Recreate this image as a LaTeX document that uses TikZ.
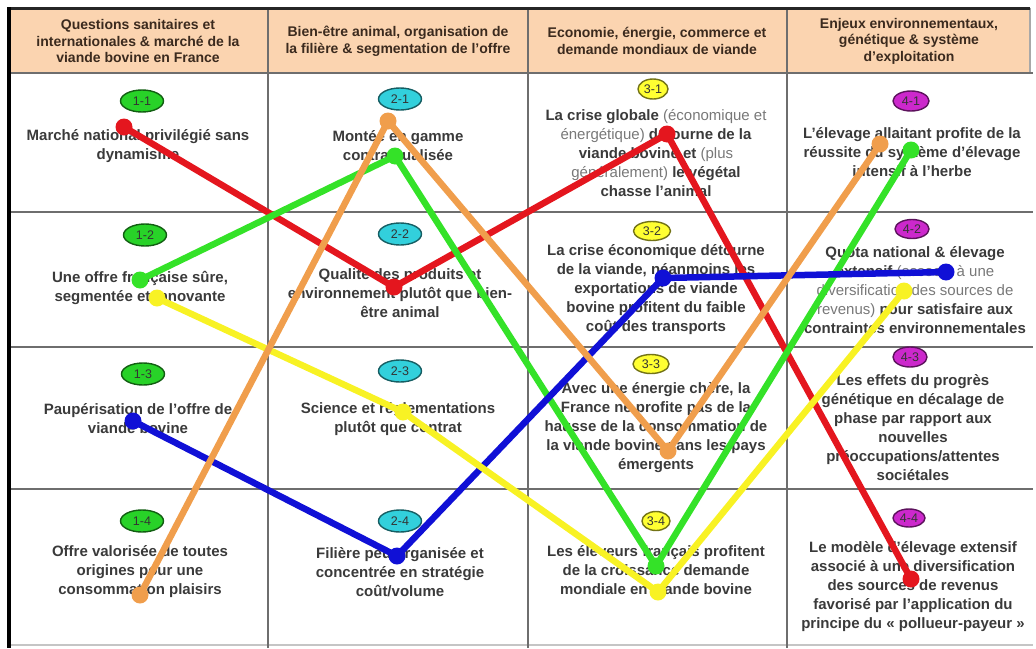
\documentclass[tikz,border=0pt]{standalone}
\usepackage{fontspec}
\setmainfont{Liberation Sans}
\usetikzlibrary{shapes.geometric}

\definecolor{headfill}{RGB}{251,212,176}
\definecolor{headtext}{RGB}{59,42,30}
\definecolor{bodytext}{RGB}{58,58,58}
\definecolor{softtext}{RGB}{120,120,120}
\definecolor{gridgray}{RGB}{110,110,110}
\definecolor{lnred}{RGB}{228,22,30}
\definecolor{lnorange}{RGB}{240,158,76}
\definecolor{lngreen}{RGB}{52,226,40}
\definecolor{lnyellow}{RGB}{248,242,36}
\definecolor{lnblue}{RGB}{16,16,214}
\definecolor{bdgreen}{RGB}{40,210,40}
\definecolor{bdcyan}{RGB}{50,208,220}
\definecolor{bdyellow}{RGB}{255,255,50}
\definecolor{bdmagenta}{RGB}{204,40,204}

\newcommand{\soft}[1]{{\mdseries\color{softtext}#1}}

\begin{document}
\begin{tikzpicture}[x=1pt,y=-1pt,
    head/.style={align=center,inner sep=0pt,text=headtext,
      font=\fontsize{14}{16.6}\selectfont\bfseries},
    cell/.style={align=center,inner sep=0pt,text=bodytext,
      font=\fontsize{15}{19}\selectfont\bfseries},
    badge/.style={shape=ellipse,fill=#1,draw=#1!45!black,line width=1.4pt,
      inner sep=0pt,minimum width=43,minimum height=22,text=black!80,
      font=\fontsize{12.5}{12.5}\selectfont},
    link/.style={draw=#1,line width=6.5pt,line join=round},
    dot/.style={shape=circle,fill=#1,inner sep=0pt,minimum size=17}]
    \useasboundingbox (0,0) rectangle (1036,648);

    % table frame
    \fill[headfill] (8,8) rectangle (1030,73);
    \draw[gridgray!60,line width=1.5pt] (1030,8) -- (1030,73);
    \draw[gridgray,line width=1.6pt] (8,73) -- (1033,73);
    \draw[gridgray,line width=1.6pt] (8,212) -- (1033,212);
    \draw[gridgray,line width=1.6pt] (8,347) -- (1033,347);
    \draw[gridgray,line width=1.6pt] (8,489) -- (1033,489);
    \draw[gridgray!40,line width=1.2pt] (8,645) -- (1033,645);
    \draw[gridgray,line width=1.6pt] (268,8) -- (268,648);
    \draw[gridgray,line width=1.6pt] (528,8) -- (528,648);
    \draw[gridgray,line width=1.6pt] (787,8) -- (787,648);
    \draw[black!85,line width=3pt] (7,8) -- (1030,8);
    \draw[black,line width=3.2pt] (9,7) -- (9,648);

    % headers
    \node[head] (head1) at (138,41) {Questions sanitaires et\\internationales \& marché de la\\viande bovine en France};
    \node[head] (head2) at (398,41) {Bien-être animal, organisation de\\la filière \& segmentation de l’offre};
    \node[head] (head3) at (657,41) {Economie, énergie, commerce et\\demande mondiaux de viande};
    \node[head] (head4) at (909,41) {Enjeux environnementaux,\\génétique \& système\\d’exploitation};

    % badges
    \node[badge=bdgreen] (lab11) at (142,101) {1-1};
    \node[badge=bdgreen] (lab12) at (145,235) {1-2};
    \node[badge=bdgreen] (lab13) at (143,374) {1-3};
    \node[badge=bdgreen] (lab14) at (142,521) {1-4};
    \node[badge=bdcyan] (lab21) at (400,99) {2-1};
    \node[badge=bdcyan] (lab22) at (400,234) {2-2};
    \node[badge=bdcyan] (lab23) at (400,371) {2-3};
    \node[badge=bdcyan] (lab24) at (400,521) {2-4};
    \node[badge=bdyellow,minimum width=30,minimum height=20] (lab31) at (653,89) {3-1};
    \node[badge=bdyellow,minimum width=37,minimum height=19] (lab32) at (652,231) {3-2};
    \node[badge=bdyellow,minimum width=36,minimum height=19] (lab33) at (651,364) {3-3};
    \node[badge=bdyellow,minimum width=28,minimum height=19] (lab34) at (656,521) {3-4};
    \node[badge=bdmagenta,minimum width=36,minimum height=20] (lab41) at (911,101) {4-1};
    \node[badge=bdmagenta,minimum width=34,minimum height=19] (lab42) at (912,229) {4-2};
    \node[badge=bdmagenta,minimum width=34,minimum height=20] (lab43) at (910,357) {4-3};
    \node[badge=bdmagenta,minimum width=32,minimum height=18] (lab44) at (909,518) {4-4};

    % cell texts
    \node[cell] (cell11) at (138,146) {Marché national privilégié sans\\dynamisme};
    \node[cell] (cell21) at (398,146) {Montée en gamme\\contractualisée};
    \node[cell] (cell31) at (656,153) {La crise globale \soft{(économique et}\\\soft{énergétique)} détourne de la\\viande bovine et \soft{(plus}\\\soft{généralement)} le végétal\\chasse l’animal};
    \node[cell] (cell41) at (912,152) {L’élevage allaitant profite de la\\réussite du système d’élevage\\intensif à l’herbe};
    \node[cell] (cell12) at (140,288) {Une offre française sûre,\\segmentée et innovante};
    \node[cell] (cell22) at (400,293) {Qualité des produits et\\environnement plutôt que bien-\\être animal};
    \node[cell] (cell32) at (656,290) {La crise économique détourne\\de la viande, néanmoins les\\exportations de viande\\bovine profitent du faible\\coût des transports};
    \node[cell] (cell42) at (915,290) {Quota national \& élevage\\extensif \soft{(associé à une}\\\soft{diversification des sources de}\\\soft{revenus)} pour satisfaire aux\\contraintes environnementales};
    \node[cell] (cell13) at (138,419) {Paupérisation de l’offre de\\viande bovine};
    \node[cell] (cell23) at (398,419) {Science et réglementations\\plutôt que contrat};
    \node[cell] (cell33) at (656,428) {Avec une énergie chère, la\\France ne profite pas de la\\hausse de la consommation de\\la viande bovine dans les pays\\émergents};
    \node[cell] (cell43) at (913,428) {Les effets du progrès\\génétique en décalage de\\phase par rapport aux\\nouvelles\\préoccupations/attentes\\sociétales};
    \node[cell] (cell14) at (140,572) {Offre valorisée de toutes\\origines pour une\\consommation plaisirs};
    \node[cell] (cell24) at (400,572) {Filière peu organisée et\\concentrée en stratégie\\coût/volume};
    \node[cell] (cell34) at (656,570) {Les éleveurs français profitent\\de la croissance demande\\mondiale en viande bovine};
    \node[cell] (cell44) at (913,587) {Le modèle d’élevage extensif\\associé à une diversification\\des sources de revenus\\favorisé par l’application du\\principe du «~pollueur-payeur~»};

    % scenario paths
    \coordinate (red1) at (124,127);
    \coordinate (red2) at (394,287);
    \coordinate (red3) at (667,134);
    \coordinate (red4) at (911,579);
    \coordinate (grn1) at (140,280);
    \coordinate (grn2) at (395,156);
    \coordinate (grn3) at (656,566);
    \coordinate (grn4) at (911,150);
    \coordinate (blu1) at (133,421);
    \coordinate (blu2) at (397,556);
    \coordinate (blu3) at (663,278);
    \coordinate (blu4) at (946,272);
    \coordinate (yel1) at (157,298);
    \coordinate (yel2) at (403,412);
    \coordinate (yel3) at (658,592);
    \coordinate (yel4) at (904,291);
    \coordinate (ora1) at (140,595);
    \coordinate (ora2) at (388,121);
    \coordinate (ora3) at (668,451);
    \coordinate (ora4) at (880,144);

    \draw[link=lnred] (red1) -- (red2) -- (red3) -- (red4);
    \node[dot=lnred] at (red1) {};
    \node[dot=lnred] at (red2) {};
    \node[dot=lnred] at (red3) {};
    \node[dot=lnred] at (red4) {};
    \draw[link=lngreen] (grn1) -- (grn2) -- (grn3) -- (grn4);
    \node[dot=lngreen] at (grn1) {};
    \node[dot=lngreen] at (grn2) {};
    \node[dot=lngreen] at (grn3) {};
    \node[dot=lngreen] at (grn4) {};
    \draw[link=lnblue] (blu1) -- (blu2) -- (blu3) -- (blu4);
    \node[dot=lnblue] at (blu1) {};
    \node[dot=lnblue] at (blu2) {};
    \node[dot=lnblue] at (blu3) {};
    \node[dot=lnblue] at (blu4) {};
    \draw[link=lnyellow] (yel1) -- (yel2) -- (yel3) -- (yel4);
    \node[dot=lnyellow] at (yel1) {};
    \node[dot=lnyellow] at (yel2) {};
    \node[dot=lnyellow] at (yel3) {};
    \node[dot=lnyellow] at (yel4) {};
    \draw[link=lnorange] (ora1) -- (ora2) -- (ora3) -- (ora4);
    \node[dot=lnorange] at (ora1) {};
    \node[dot=lnorange] at (ora2) {};
    \node[dot=lnorange] at (ora3) {};
    \node[dot=lnorange] at (ora4) {};
\end{tikzpicture}
\end{document}
